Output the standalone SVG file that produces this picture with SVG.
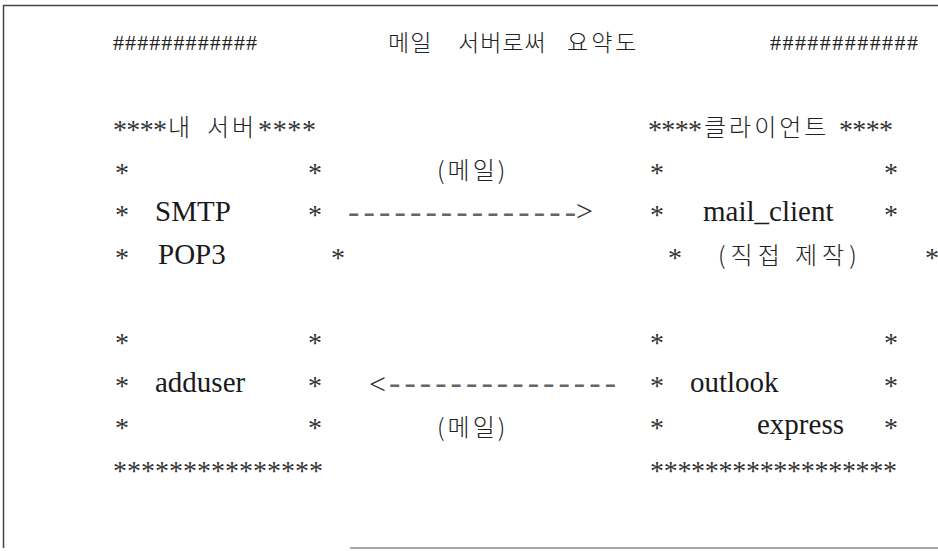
<svg xmlns="http://www.w3.org/2000/svg" width="938" height="551" viewBox="0 0 938 551">
<style>
.lat{font-family:"Liberation Serif","Times New Roman",serif;font-size:29px;fill:#1a1a1a}
.ast{font-family:"Liberation Serif","Times New Roman",serif;font-size:28px;fill:#333}
.hash{font-family:"Liberation Serif","Times New Roman",serif;font-size:22px;fill:#222}
.ko{font-family:"Noto Sans CJK KR","Noto Sans CJK SC",sans-serif;font-size:24px;fill:#222;letter-spacing:3px;font-weight:300}
.kt{font-family:"Noto Sans CJK KR","Noto Sans CJK SC",sans-serif;font-size:23px;fill:#222;letter-spacing:1px;font-weight:300}
.dash{font-family:"Liberation Serif","Times New Roman",serif;font-size:34px;fill:#666}
.arr{font-family:"Liberation Serif","Times New Roman",serif;font-size:30px;fill:#333}
.frame{stroke:#444;stroke-width:1.5;fill:none}
</style>
<rect width="938" height="551" fill="#fff"/>
<g id="frame">
<path class="frame" d="M3.5 5.5 L938 5.5 M3.5 5 L3.5 548"/>
<path d="M350 548 L938 548" stroke="#888" stroke-width="1.5"/>
</g>
<g id="title">
<text class="hash" x="113" y="50" textLength="144" lengthAdjust="spacing">############</text>
<text class="kt" x="388" y="51">메일</text>
<text class="kt" x="458" y="51">서버로써</text>
<text class="kt" x="567" y="51" style="letter-spacing:3px">요약도</text>
<text class="hash" x="770" y="50" textLength="148" lengthAdjust="spacing">############</text>
</g>
<g id="server">
<text class="ast" x="113" y="139" textLength="54" lengthAdjust="spacing">****</text>
<text class="ko" x="168" y="136">내</text>
<text class="ko" x="207" y="136">서버</text>
<text class="ast" x="258" y="139" textLength="58" lengthAdjust="spacing">****</text>
<text class="ast" x="115" y="182">*</text>
<text class="ast" x="308" y="182">*</text>
<text class="ast" x="115" y="224">*</text>
<text class="lat" x="155" y="221">SMTP</text>
<text class="ast" x="308" y="224">*</text>
<text class="ast" x="115" y="267">*</text>
<text class="lat" x="158" y="264">POP3</text>
<text class="ast" x="331" y="267">*</text>
<text class="ast" x="115" y="352">*</text>
<text class="ast" x="308" y="352">*</text>
<text class="ast" x="115" y="395">*</text>
<text class="lat" x="155" y="392">adduser</text>
<text class="ast" x="308" y="395">*</text>
<text class="ast" x="115" y="437">*</text>
<text class="ast" x="308" y="437">*</text>
<text class="ast" x="113" y="480" textLength="210" lengthAdjust="spacing">***************</text>
</g>
<g id="client">
<text class="ast" x="648" y="139" textLength="54" lengthAdjust="spacing">****</text>
<text class="ko" x="704" y="136">클라이언트</text>
<text class="ast" x="839" y="139" textLength="54" lengthAdjust="spacing">****</text>
<text class="ast" x="650" y="182">*</text>
<text class="ast" x="884" y="182">*</text>
<text class="ast" x="650" y="224">*</text>
<text class="lat" x="703" y="221">mail_client</text>
<text class="ast" x="884" y="224">*</text>
<text class="ast" x="668" y="267">*</text>
<text class="ko" x="718" y="264" style="letter-spacing:5px">(직접 제작)</text>
<text class="ast" x="925" y="267">*</text>
<text class="ast" x="650" y="352">*</text>
<text class="ast" x="884" y="352">*</text>
<text class="ast" x="650" y="395">*</text>
<text class="lat" x="690" y="392">outlook</text>
<text class="ast" x="884" y="395">*</text>
<text class="ast" x="650" y="437">*</text>
<text class="lat" x="757" y="434">express</text>
<text class="ast" x="884" y="437">*</text>
<text class="ast" x="650" y="480" textLength="247" lengthAdjust="spacing">******************</text>
</g>
<g id="connectors">
<text class="ko" x="437" y="179">(메일)</text>
<text class="dash" x="348" y="223" textLength="228" lengthAdjust="spacing">---------------</text>
<text class="arr" x="576" y="221">&gt;</text>
<text class="arr" x="369" y="394">&lt;</text>
<text class="dash" x="389" y="394" textLength="227" lengthAdjust="spacing">---------------</text>
<text class="ko" x="437" y="436">(메일)</text>
</g>
</svg>
